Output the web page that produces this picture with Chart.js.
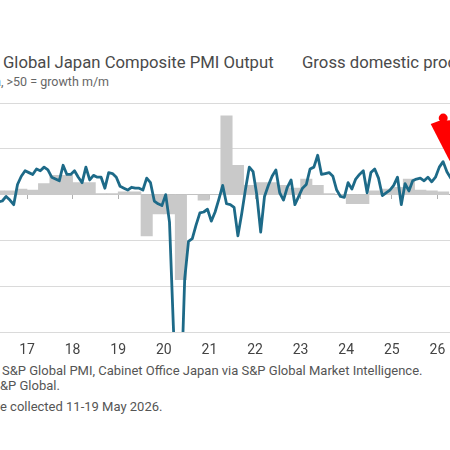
<!DOCTYPE html>
<html>
<head>
<meta charset="utf-8">
<script src="https://cdn.jsdelivr.net/npm/chart.js@4.4.1/dist/chart.umd.min.js"></script>
<style>
  html, body { margin: 0; padding: 0; background: #fff; }
  body { width: 450px; height: 450px; overflow: hidden; position: relative; font-family: Roboto, "Noto Sans", sans-serif; }
  .txt { position: absolute; white-space: nowrap; color: #555; }
  .pre { position: absolute; right: 100%; }
  .legend { font-size: 16.7px; line-height: 20px; color: #4a4a4a; top: 53px; }
  #subtitle { left: 1px; top: 74px; font-size: 12.5px; line-height: 15px; color: #666; }
  .foot { font-size: 13px; line-height: 16px; }
  #chartBox { position: absolute; left: -10px; top: 90px; }
</style>
</head>
<body>
<div class="txt legend" style="left:3px"><span class="pre">S&amp;P&nbsp;</span>Global Japan Composite PMI Output</div>
<div class="txt legend" style="left:302px">Gross domestic product</div>
<div class="txt" id="subtitle"><span class="pre">sa</span>, &gt;50 = growth m/m</div>
<div class="txt foot" style="left:2px;top:363px"><span class="pre">Sources:&nbsp;</span>S&amp;P Global PMI, Cabinet Office Japan via S&amp;P Global Market Intelligence.</div>
<div class="txt foot" style="left:0px;top:378px"><span class="pre">&copy; 2026 S</span>&amp;P Global.</div>
<div class="txt foot" style="left:0px;top:399px"><span class="pre">Data wer</span>e collected 11-19 May 2026.</div>
<div id="chartBox"><canvas id="pmiChart" width="480" height="278"></canvas></div>

<script>
// Composite PMI Output index, monthly, first value is May 2016
const pmiStart = [2016, 5];
const pmiOutput = [
    49.2, 49.3, 49.8, 49.4, 48.9, 51.1, 52.0, 52.6,
    52.4, 52.2, 52.8, 52.6, 53.0, 52.7, 51.9, 51.7, 51.5, 53.2, 52.2, 52.2,
    52.6, 51.9, 51.3, 53.0, 51.6, 52.1, 51.9, 51.9, 50.7, 52.4, 52.3, 51.9,
    50.9, 50.7, 50.5, 50.8, 50.7, 50.7, 50.5, 51.8, 51.3, 49.3, 49.0, 48.8,
    50.0, 47.0, 35.8, 25.8, 27.8, 40.8, 44.9, 45.2, 46.7, 48.0, 48.1, 48.4,
    47.1, 48.1, 49.5, 51.0, 49.0, 48.9, 48.6, 45.5, 47.9, 50.6, 53.0, 52.5,
    49.9, 45.9, 49.8, 51.0, 52.0, 52.7, 50.2, 49.4, 50.8, 51.6, 48.9, 49.8,
    50.7, 51.1, 52.8, 53.0, 54.3, 52.2, 52.3, 52.4, 52.0, 50.5, 49.8, 49.7,
    51.3, 50.6, 51.7, 52.2, 52.6, 50.2, 52.4, 52.8, 51.8, 49.9, 50.2, 50.5,
    51.0, 51.9, 48.9, 51.2, 50.4, 51.5, 51.7, 51.8, 51.5, 51.9, 51.4, 51.9,
    53.0, 53.6, 52.5, 51.8, 51.5
];

// GDP change (%), quarterly, first value is 2016 Q2
const gdpStart = [2016, 2];
const gdpChange = [
    0.4, 0.4, 0.6,
    0.5, 1.2, 2.1, 2.1,
    1.3, 1.3, 0.1, 0.1,
    0.3, 0.3, -4.5, -2.1,
    -2.1, -9.3, 0.0, -0.6,
    0.0, 8.6, 3.2, 1.0,
    1.3, 1.3, 1.0, 0.7,
    1.7, 1.0, 0.1, 0.0,
    -1.0, -1.0, 0.4, 0.6,
    0.8, 1.7, 0.5, 0.4,
    0.3
];

const yearLabels = ['17', '18', '19', '20', '21', '22', '23', '24', '25', '26'];

// x values are months counted from Jan 2017
const baseYear = 2017;
function monthOffset(year, month) {
    return (year - baseYear) * 12 + (month - 1);
}

const pmiPoints = pmiOutput.map((v, i) => ({ x: monthOffset(pmiStart[0], pmiStart[1]) + i + 0.5, y: v }));
const gdpPoints = gdpChange.map((v, i) => ({ x: monthOffset(gdpStart[0], (gdpStart[1] - 1) * 3 + 1) + i * 3 + 1.5, y: v }));

const yearTicks = axis => {
    axis.ticks = yearLabels.map((_, i) => ({ value: i * 12 }));
};

// red annotation arrow pointing at the latest readings
const arrowPlugin = {
    id: 'arrow',
    afterDatasetsDraw(chart) {
        const meta = chart.getDatasetMeta(0);
        const pt = meta.data[pmiOutput.length - 2];
        const tx = pt.x - 1, ty = pt.y - 17;
        const c = chart.ctx;
        c.save();
        c.fillStyle = '#ff0000';
        c.beginPath();
        c.moveTo(tx, ty);
        c.lineTo(tx - 19, ty - 37);
        c.lineTo(tx - 11, ty - 40);
        c.lineTo(tx + 20, ty - 42);
        c.closePath();
        c.fill();
        c.beginPath();
        c.arc(tx - 6.5, ty - 43, 4.5, 0, Math.PI * 2);
        c.fill();
        c.restore();
    }
};

const ctx = document.getElementById('pmiChart').getContext('2d');
new Chart(ctx, {
    data: {
        datasets: [
            {
                type: 'line',
                label: 'S&P Global Japan Composite PMI Output',
                data: pmiPoints,
                yAxisID: 'y',
                borderColor: '#1d6a88',
                borderWidth: 2.8,
                borderJoinStyle: 'round',
                pointRadius: 0,
                tension: 0,
                clip: 0,
                order: 1
            },
            {
                type: 'bar',
                label: 'Gross domestic product',
                data: gdpPoints,
                yAxisID: 'y1',
                backgroundColor: '#c9c9c9',
                barPercentage: 1,
                categoryPercentage: 1,
                order: 2
            }
        ]
    },
    options: {
        responsive: false,
        animation: false,
        events: [],
        layout: { padding: { left: 2.8, right: 13.6, top: 13, bottom: 0 } },
        plugins: {
            legend: { display: false },
            tooltip: { enabled: false }
        },
        scales: {
            x: {
                type: 'linear',
                offset: false,
                min: -9,
                max: 113,
                grid: { display: false, drawTicks: false },
                border: { display: false },
                afterBuildTicks: yearTicks,
                ticks: {
                    autoSkip: false,
                    maxRotation: 0,
                    padding: 9.6,
                    color: '#444',
                    font: { family: 'Roboto', size: 14 },
                    callback: (v, i) => yearLabels[i]
                }
            },
            x2: {
                type: 'linear',
                offset: false,
                position: { y: 50 },
                min: -9,
                max: 113,
                afterBuildTicks: yearTicks,
                grid: { drawOnChartArea: false, drawTicks: true, tickLength: 4, color: '#b0b0b0' },
                border: { display: true, color: '#b0b0b0' },
                ticks: { display: false }
            },
            y: {
                min: 35,
                max: 60,
                ticks: { display: false, stepSize: 5 },
                grid: {
                    drawTicks: false,
                    color: c => c.tick.value === 50 ? '#b0b0b0' : '#dadada'
                },
                border: { display: false }
            },
            y1: {
                display: false,
                min: -15,
                max: 10
            }
        }
    },
    plugins: [arrowPlugin]
});
</script>
</body>
</html>
